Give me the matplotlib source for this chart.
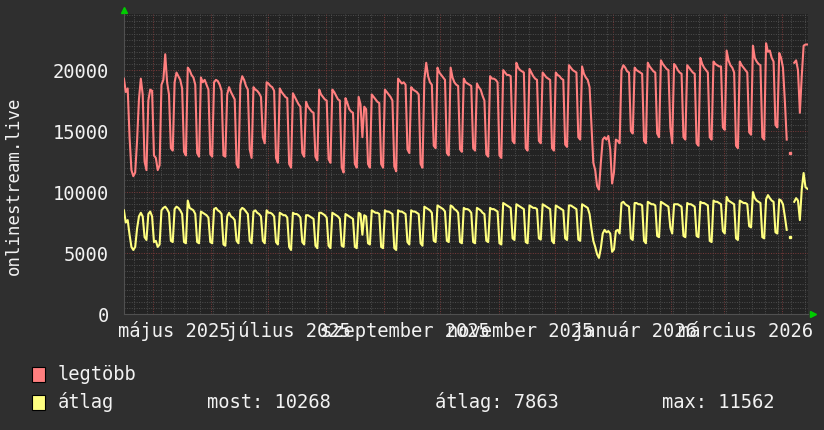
import numpy as np
import pandas as pd
import matplotlib
matplotlib.use('Agg')
import matplotlib.pyplot as plt
import matplotlib.dates as mdates
import matplotlib.transforms as mtransforms
from matplotlib.ticker import MultipleLocator, NullFormatter
from matplotlib.patches import Rectangle

plt.rcParams['font.family'] = ['DejaVu Sans Mono']

nan = np.nan

# daily values, one week (Mon..Sun) per line, first Monday 2025-04-14
legtobb = [
    nan, 19300, 18200, 18500, 14500, 11800, 11300,
    11600, 14200, 17600, 19300, 18000, 12500, 11800,
    17500, 18400, 18300, 13000, 12800, 11800, 12200,
    18800, 19200, 21300, 19000, 18000, 13600, 13400,
    19000, 19800, 19500, 19200, 18500, 13300, 13000,
    20200, 20000, 19600, 19400, 18800, 13200, 12900,
    19400, 19000, 19200, 18800, 18400, 13100, 12900,
    19000, 19200, 19100, 18800, 18300, 13000, 12900,
    18000, 18600, 18200, 17900, 17600, 12300, 12000,
    18800, 19500, 19200, 18700, 18400, 13500, 12800,
    18600, 18400, 18300, 18100, 17800, 14500, 14000,
    19000, 18900, 18700, 18600, 18300, 12800, 12400,
    18500, 18200, 18000, 17800, 17700, 12300, 12000,
    18100, 17800, 17500, 17200, 17000, 13200, 12900,
    17400, 17000, 16800, 16600, 16500, 12900, 12600,
    18400, 18000, 17800, 17600, 17500, 12700, 12400,
    18400, 18200, 17900, 17600, 17500, 12000, 11600,
    17700, 17300, 16800, 16600, 16500, 12300, 12000,
    17800, 17200, 14500, 17000, 16800, 12300, 12000,
    18000, 17800, 17600, 17400, 17300, 12300, 12000,
    18400, 18200, 18000, 17800, 17500, 12100, 11700,
    19300, 19100, 18900, 19000, 18800, 13500, 13200,
    18600, 18400, 18300, 18200, 18000, 12300, 12000,
    19200, 20600, 19500, 19000, 18800, 13800, 13600,
    20200, 19800, 19600, 19400, 19200, 13200, 13000,
    20200, 19400, 19000, 18800, 18700, 13500, 13300,
    19300, 19000, 18900, 18800, 18700, 13600, 13400,
    18900, 18600, 18400, 17900, 17500, 13100, 12900,
    19500, 19300, 19300, 19200, 19000, 13000, 12800,
    20000, 19800, 19600, 19600, 19500, 14200, 14000,
    20600, 20200, 20000, 19900, 19800, 13600, 13400,
    20100, 19800, 19500, 19300, 19200, 14200, 14000,
    19800, 19600, 19400, 19300, 19200, 13600, 13400,
    19800, 19600, 19500, 19300, 19200, 13900, 13700,
    20400, 20200, 20000, 19900, 19800, 14500, 14300,
    20300, 19700, 19400, 19200, 18600, 15500, 12400,
    11800, 10500, 10200, 12400, 14300, 14500, 14300,
    14600, 13500, 10700, 11600, 14300, 14200, 14000,
    20000, 20400, 20200, 19900, 19800, 15000, 14800,
    20200, 20000, 19900, 19800, 19700, 14200, 14000,
    20600, 20300, 20100, 19900, 19800, 14800, 14500,
    20800, 20500, 20300, 20100, 20000, 15300, 14000,
    20500, 20300, 20000, 19800, 19700, 14500, 14300,
    20400, 20200, 20000, 19800, 19700, 14000, 13800,
    21000, 20500, 20200, 20000, 19800, 14500, 14300,
    20700, 20500, 20400, 20300, 20300, 15300, 15100,
    21600, 20800, 20400, 20200, 19800, 13800, 13600,
    20700, 20400, 20200, 20000, 19800, 14900, 14700,
    22000, 21000, 20700, 20500, 20400, 14500, 14300,
    22200, 21500, 21600, 21000, 20700, 15500, 15300,
    21400, 21000, 20200, 17500, 14300, nan, 13200,
    nan, 20600, 20800, 20000, 16500, 19500, 22000,
    22100, 22100,
]

atlag = [
    nan, 8500, 7500, 7700, 6500, 5500, 5250,
    5500, 7000, 8000, 8300, 8000, 6300, 6070,
    8200, 8400, 8000, 5900, 6000, 5500, 5700,
    8500, 8700, 8800, 8600, 8300, 6000, 5900,
    8600, 8800, 8700, 8500, 8200, 5900, 5800,
    9300, 8700, 8600, 8500, 8200, 5900, 5800,
    8400, 8300, 8200, 8100, 7900, 5900, 5800,
    8600, 8700, 8500, 8400, 8200, 5700, 5600,
    8000, 8300, 8000, 7900, 7700, 6000, 5800,
    8500, 8700, 8600, 8400, 8200, 6000, 5800,
    8400, 8500, 8300, 8200, 8000, 6000, 5800,
    8500, 8300, 8300, 8200, 8000, 5900, 5700,
    8300, 8200, 8100, 8100, 7900, 5500, 5250,
    8300, 8200, 8200, 8100, 7900, 5900, 5700,
    8100, 8100, 8000, 7900, 7800, 5600, 5400,
    8300, 8300, 8200, 8100, 7900, 5600, 5400,
    8300, 8200, 8100, 8000, 7800, 5600, 5500,
    8200, 8100, 8000, 7900, 7800, 5500, 5400,
    8300, 8200, 6500, 8100, 8000, 5800, 5700,
    8500, 8400, 8300, 8300, 8200, 5500, 5400,
    8500, 8400, 8400, 8300, 8200, 5400, 5250,
    8500, 8400, 8400, 8300, 8200, 5900, 5700,
    8500, 8400, 8400, 8300, 8200, 5800, 5600,
    8800, 8700, 8600, 8500, 8300, 6000, 5900,
    8900, 8800, 8700, 8600, 8400, 6000, 5900,
    8900, 8800, 8600, 8500, 8300, 5900, 5800,
    8700, 8600, 8600, 8500, 8300, 5900, 5800,
    8700, 8600, 8500, 8300, 8200, 6000, 5900,
    8700, 8600, 8600, 8500, 8400, 5800, 5700,
    9100, 9000, 8900, 8800, 8700, 6200, 6070,
    9000, 8900, 8800, 8700, 8600, 5900, 5800,
    8900, 8800, 8700, 8700, 8600, 6200, 6100,
    9000, 8900, 8800, 8700, 8600, 6000, 5800,
    8900, 8800, 8700, 8600, 8500, 6200, 6070,
    8900, 8900, 8800, 8700, 8600, 6100, 6000,
    9000, 8900, 8800, 8700, 8200, 7000, 6000,
    5500, 4900, 4600, 5400, 6600, 6900, 6700,
    6800, 6600, 5100, 5300, 6800, 6900, 6600,
    9100, 9200, 9000, 8900, 8800, 6200, 6070,
    9100, 9100, 9000, 9000, 8900, 6000, 5800,
    9200, 9100, 9000, 9000, 8900, 6400, 6300,
    9200, 9100, 9000, 8900, 8800, 7100, 6600,
    9000, 9000, 9000, 8900, 8800, 6400, 6300,
    9100, 9000, 9000, 8900, 8800, 6400, 6300,
    9200, 9100, 9100, 9000, 8900, 6000, 5900,
    9300, 9200, 9200, 9100, 9000, 6800, 6600,
    9600, 9300, 9200, 9100, 9000, 6200, 6070,
    9300, 9200, 9100, 9100, 9000, 7200, 7100,
    10000, 9500, 9300, 9200, 9100, 6300, 6200,
    9400, 9750, 9500, 9300, 9200, 6700, 6600,
    9400, 9300, 9000, 8000, 6900, nan, 6300,
    nan, 9200, 9500, 9300, 7700, 10200, 11562,
    10400, 10268,
]

month_labels = ['május 2025', 'július 2025', 'szeptember 2025',
                'november 2025', 'január 2026', 'március 2026']
month_starts = ['2025-05-01', '2025-07-01', '2025-09-01',
                '2025-11-01', '2026-01-01', '2026-03-01']
ylabel = 'onlinestream.live'
legend_rows = [('legtöbb', []),
               ('átlag', ['most: 10268', 'átlag: 7863', 'max: 11562'])]

BG = '#2f2f2f'
PLOT_BG = '#232323'
GRID = '#4e4e4e'
MGRID = '#7a3a3a'
TXT = '#f2f2f2'
RED = '#ff7f7f'
YEL = '#ffff80'

days = pd.date_range('2025-04-14 12:00', periods=len(legtobb), freq='D')

fig = plt.figure(figsize=(8.24, 4.30), dpi=100, facecolor=BG)
ax = fig.add_axes([124 / 824, 116 / 430, 684 / 824, 300 / 430])
ax.set_facecolor(PLOT_BG)

for vals, col in [(legtobb, RED), (atlag, YEL)]:
    v = np.array(vals, dtype=float)
    ax.plot(days, v, color=col, lw=1.5, zorder=3)
    # points with no neighbour would vanish in a line plot
    ok = np.isfinite(v)
    prev = np.r_[False, ok[:-1]]
    nxt = np.r_[ok[1:], False]
    iso = ok & ~prev & ~nxt
    ax.plot(days[iso], v[iso], 's', ms=1.6, color=col, zorder=3)

ax.set_xlim(pd.Timestamp('2025-04-15 13:00'), pd.Timestamp('2026-04-14 20:00'))
ax.set_ylim(0, 24600)

ax.yaxis.set_major_locator(MultipleLocator(5000))
ax.yaxis.set_minor_locator(MultipleLocator(500))
ax.xaxis.set_major_locator(mdates.MonthLocator())
ax.xaxis.set_minor_locator(mdates.WeekdayLocator(byweekday=mdates.MO))
ax.xaxis.set_major_formatter(NullFormatter())
ax.grid(which='minor', color=GRID, ls=(0, (1, 1.5)), lw=0.7)
ax.grid(which='major', color=MGRID, ls=(0, (1, 1.5)), lw=0.7)
ax.set_axisbelow(True)
ax.tick_params(which='both', length=0)
ax.tick_params(axis='y', labelcolor=TXT, labelsize=13.5, pad=11)
for s in ['top', 'right']:
    ax.spines[s].set_visible(False)
for s in ['bottom', 'left']:
    ax.spines[s].set_color('#505050')
    ax.spines[s].set_linewidth(0.8)

ax.plot([0], [1.012], marker='^', color='#00cc00', ms=5, transform=ax.transAxes, clip_on=False)
ax.plot([1.007], [0.0], marker='>', color='#00cc00', ms=5, transform=ax.transAxes, clip_on=False)

trans = mtransforms.blended_transform_factory(ax.transData, ax.transAxes)
for lab, ms in zip(month_labels, month_starts):
    pos = pd.Timestamp(ms) + pd.Timedelta(days=11.5)
    ax.text(pos, -0.057, lab, transform=trans, ha='center', va='center',
            color=TXT, fontsize=13.5)

fig.text(14 / 824, 1 - 186 / 430, ylabel, rotation=90, ha='center', va='center',
         color=TXT, fontsize=12.5)

# legend
for i, ((name, stats), col) in enumerate(zip(legend_rows, [RED, YEL])):
    yc = 374 + 28 * i
    fig.add_artist(Rectangle((32 / 824, 1 - (yc + 7.5) / 430), 13 / 824, 15 / 430,
                             facecolor=col, edgecolor='black', lw=0.8,
                             transform=fig.transFigure))
    fig.text(58 / 824, 1 - yc / 430, name, ha='left', va='center', color=TXT, fontsize=13.5)
    for s, xs in zip(stats, [207, 435, 662]):
        fig.text(xs / 824, 1 - yc / 430, s, ha='left', va='center', color=TXT, fontsize=13.5)

fig.savefig('out.png', dpi=100, facecolor=BG)
plt.close('all')
